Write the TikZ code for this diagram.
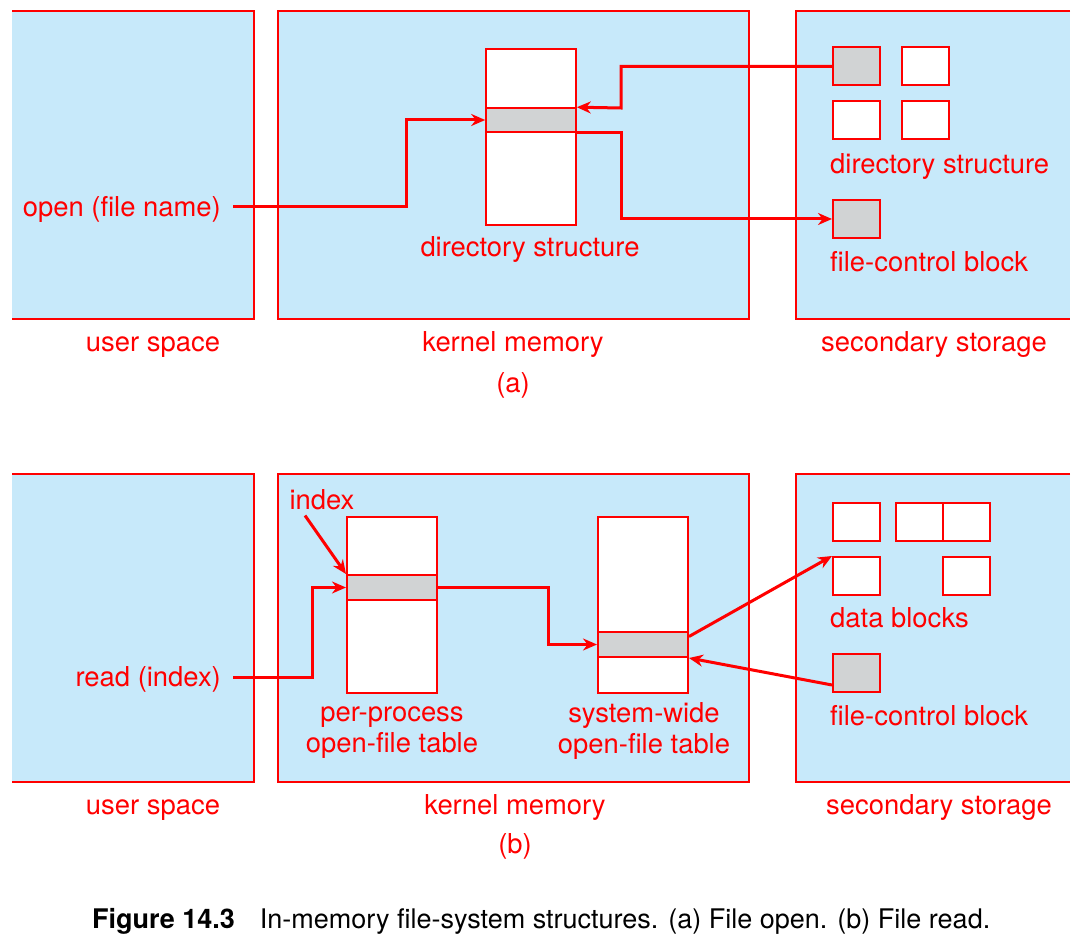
\documentclass[tikz,border=0pt]{standalone}
\usepackage{fontspec}
\setmainfont{TeX Gyre Heros}
\usetikzlibrary{arrows.meta}
\definecolor{paneblue}{RGB}{199,233,250}
\definecolor{rowgray}{RGB}{209,211,212}
\definecolor{figred}{RGB}{255,0,0}
\newcommand{\lblsize}{\fontsize{27.4}{31}\selectfont}

\begin{document}
\begin{tikzpicture}[x=1pt,y=-1pt]

    \tikzset{
      rim/.style={draw=figred, line width=1.6pt},
      cell/.style={
        draw=figred,
        fill=white,
        line width=2pt,
        inner sep=0pt,
        minimum width=47pt,
        minimum height=38pt,
      },
      graycell/.style={cell, fill=rowgray},
      filetab/.style={draw=figred, fill=white, line width=2pt, inner sep=0pt,
        minimum width=90pt, minimum height=176pt},
      tabrow/.style={draw=figred, fill=rowgray, line width=1.6pt, inner sep=0pt,
        minimum width=90pt, minimum height=24pt},
      lbl/.style={text=figred, font=\lblsize, inner sep=0pt, align=center, anchor=base},
      link/.style={draw=figred, line width=3pt, -{Stealth[length=14pt,width=12pt]}},
    }
    \useasboundingbox (0,0) rectangle (1082,952);

    % the three panels, (a) on top and (b) below
    \foreach \top/\bot in {11/319, 474/782}{
	\fill[paneblue] (12,\top) rectangle (254,\bot);
	\draw[rim] (12,\top) -- (254,\top) -- (254,\bot) -- (12,\bot);
	\fill[paneblue] (278,\top) rectangle (749,\bot);
	\draw[rim] (278,\top) rectangle (749,\bot);
	\fill[paneblue] (796,\top) rectangle (1070,\bot);
	\draw[rim] (1070,\top) -- (796,\top) -- (796,\bot) -- (1070,\bot);
    }

    % (a) file open
    \node[filetab] (dirtab) at (531,137) {};
    \node[tabrow] (dirrow) at (531,120) {};
    \node[lbl] (dirlbl) at (530,257) {directory structure};
    \node[lbl, anchor=base east] (openlbl) at (221,217) {open (file name)};

    \node[graycell] (dsq1) at (856.5,66.5) {};
    \node[cell] (dsq2) at (925,66.5) {};
    \node[cell] (dsq3) at (856.5,120) {};
    \node[cell] (dsq4) at (925,120) {};
    \node[lbl, anchor=base west] (sdirlbl) at (830,174) {directory structure};
    \node[graycell] (fcba) at (856.5,219) {};
    \node[lbl, anchor=base west] (fcbalbl) at (830,271.5) {file-control block};

    \draw[link] ([xshift=12pt,yshift=10pt]openlbl.base east) -| (406,120) -- (dirrow.west);
    \draw[link] (dsq1.west) -| (621,108) -- (dirrow.north east);
    \draw[link] (dirrow.south east) -| (621,219) -- (fcba.west);

    \node[lbl] (usera) at (153,351) {user space};
    \node[lbl] (kernela) at (513,351) {kernel memory};
    \node[lbl] (seca) at (934,351) {secondary storage};
    \node[lbl] (parta) at (513,392) {(a)};

    % (b) file read
    \node[filetab] (ptab) at (392,605) {};
    \node[tabrow, minimum height=25pt, line width=2pt] (prow) at (392,587.5) {};
    \node[lbl, anchor=center] (ptablbl) at (392,733) {per-process\\open-file table};
    \node[filetab] (stab) at (643,605) {};
    \node[tabrow, minimum height=25pt, line width=2pt] (srow) at (643,644.5) {};
    \node[lbl, anchor=center] (stablbl) at (644,731) {system-wide\\open-file table};
    \node[lbl] (idxlbl) at (322,509.5) {index};
    \node[lbl, anchor=base east] (readlbl) at (221,686) {read (index)};

    \node[cell] (dblk1) at (856.5,522) {};
    \node[cell] (dblk2) at (919.5,522) {};
    \node[cell] (dblk3) at (966.5,522) {};
    \node[cell] (dblk4) at (856.5,576) {};
    \node[cell] (dblk5) at (966.5,576) {};
    \node[lbl, anchor=base west] (dblklbl) at (830,627.5) {data blocks};
    \node[graycell] (fcbb) at (856.5,673) {};
    \node[lbl, anchor=base west] (fcbblbl) at (830,725.5) {file-control block};

    \draw[link] ([xshift=-17pt,yshift=-6pt]idxlbl.base) -- (prow.north west);
    \draw[link] ([xshift=12pt,yshift=9pt]readlbl.base east) -| (312,587.5) -- (prow.west);
    \draw[link] (prow.east) -| (548,644.5) -- (srow.west);
    \draw[link] ([yshift=8pt]srow.east) -- (dblk4.north west);
    \draw[link] ([yshift=-12pt]fcbb.west) -- (srow.south east);

    \node[lbl] (userb) at (153,814.5) {user space};
    \node[lbl] (kernelb) at (515,814.5) {kernel memory};
    \node[lbl] (secb) at (939,814.5) {secondary storage};
    \node[lbl] (partb) at (515,853) {(b)};

    \node[font=\fontsize{27}{31}\selectfont, inner sep=0pt, anchor=west] (caption) at (92,921)
      {\textbf{Figure 14.3}\hspace{25pt}In-memory file-system structures. (a) File open. (b) File read.};

\end{tikzpicture}
\end{document}
